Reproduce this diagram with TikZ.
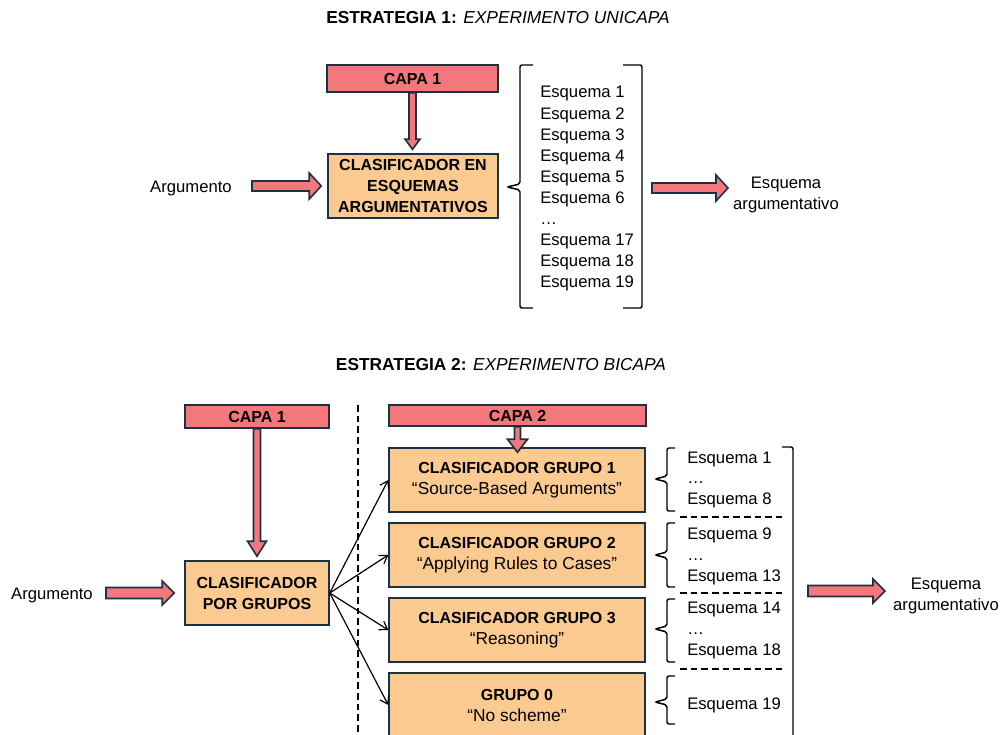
\documentclass[tikz,border=0pt]{standalone}
\usepackage{fontspec}
\setmainfont{Liberation Sans}
\usetikzlibrary{arrows.meta,calc}
\definecolor{capa}{HTML}{F4777B}
\definecolor{clasf}{HTML}{FBCA91}
\definecolor{edgec}{HTML}{1B3244}
\newcommand\fatH[5]{\draw[fatarrow] let \p1=(#1), \p2=(#2) in ({\x1},{\y1+#3}) -- ({\x2-#5},{\y1+#3}) -- ({\x2-#5},{\y1+#4}) -- ({\x2},{\y1}) -- ({\x2-#5},{\y1-#4}) -- ({\x2-#5},{\y1-#3}) -- ({\x1},{\y1-#3}) -- cycle;}
\newcommand\fatV[5]{\draw[fatarrow] let \p1=(#1), \p2=(#2) in ({\x1-#3},{\y1}) -- ({\x1-#3},{\y2+#5}) -- ({\x1-#4},{\y2+#5}) -- ({\x1},{\y2}) -- ({\x1+#4},{\y2+#5}) -- ({\x1+#3},{\y2+#5}) -- ({\x1+#3},{\y1}) -- cycle;}
\newcommand\bracketL[6]{\draw[bracestyle] (#2,#4) -- (#1,#4) -- (#1,{#6-3}) -- (#3,#6) -- (#1,{#6+3}) -- (#1,#5) -- (#2,#5);}
\newcommand\qline[1]{{\fontsize{13}{15.75}\selectfont #1}}
\tikzset{
  capabox/.style={draw=edgec, fill=capa, line width=1.1pt, inner sep=0pt, font=\bfseries\fontsize{12}{14}\selectfont},
  clasbox/.style={draw=edgec, fill=clasf, line width=1.1pt, inner sep=0pt, align=center, font=\fontsize{12}{15.75}\selectfont},
  fatarrow/.style={draw=edgec, fill=capa, line width=1.2pt, line join=miter},
  lbl/.style={font=\fontsize{12.5}{15.75}\selectfont, inner sep=0pt},
  ttl/.style={font=\fontsize{13}{15}\selectfont, inner sep=0pt},
  thinarr/.style={-{Straight Barb[length=5.5pt,width=7.5pt]}, line width=0.9pt},
  bracestyle/.style={line width=1.1pt, rounded corners=1.5pt},
  sepline/.style={dash pattern=on 5pt off 3pt, line width=1pt}
}
\begin{document}
\begin{tikzpicture}[x=0.75pt,y=-0.75pt]
\useasboundingbox (0,0) rectangle (1003,735);
\clip (0,0) rectangle (1003,735);
% ---------- Strategy 1 ----------
\node[ttl] (t1) at (498,18) {\textbf{ESTRATEGIA 1:} \textit{EXPERIMENTO UNICAPA}};
\node[capabox, minimum width=128.25pt, minimum height=20.25pt] (capaA) at (412.5,78.5) {CAPA 1};
\node[clasbox, minimum width=127.5pt, minimum height=48pt, font=\bfseries\fontsize{12}{15.75}\selectfont] (clasA) at (413,186) {CLASIFICADOR EN\\ESQUEMAS\\ARGUMENTATIVOS};
\node[lbl, anchor=base] (argA) at (191,192) {Argumento};
\coordinate (argAs) at (252,186);
\fatH{argAs}{[xshift=-4.5pt]clasA.west}{3.75pt}{9.75pt}{9pt}
\fatV{capaA.south}{[yshift=3pt]clasA.north}{2.6pt}{5.6pt}{7.5pt}
\foreach \t [count=\i] in {Esquema 1,Esquema 2,Esquema 3,Esquema 4,Esquema 5,Esquema 6,…,Esquema 17,Esquema 18,Esquema 19}
  \node[lbl, anchor=base west] (la\i) at (540,{98+(\i-1)*21.1}) {\t};
\bracketL{520}{533}{507}{65}{308}{187}
\draw[bracestyle] (623,65) -- (642,65) -- (642,308) -- (623,308);
\coordinate (oAs) at (652,188);
\coordinate (oAe) at (728,188);
\fatH{oAs}{oAe}{3.75pt}{9.75pt}{9pt}
\node[lbl, align=center] (outA) at (786,195) {Esquema\\argumentativo};
% ---------- Strategy 2 ----------
\node[ttl] (t2) at (501,365) {\textbf{ESTRATEGIA 2:} \textit{EXPERIMENTO BICAPA}};
\node[capabox, minimum width=108pt, minimum height=17.25pt] (capaB) at (257,416.5) {CAPA 1};
\node[clasbox, minimum width=108pt, minimum height=48pt, font=\bfseries\fontsize{12}{15.75}\selectfont] (clasB) at (257,593) {CLASIFICADOR\\POR GRUPOS};
\node[lbl, anchor=base] (argB) at (52,599) {Argumento};
\coordinate (argBs) at (106,593);
\fatH{argBs}{[xshift=-7.5pt]clasB.west}{4.1pt}{9pt}{9pt}
\fatV{capaB.south}{[yshift=3pt]clasB.north}{2.6pt}{7.1pt}{11.25pt}
\draw[sepline] (358,405) -- (358,745);
\node[capabox, minimum width=192.75pt, minimum height=15.75pt] (capaC) at (517.5,415.5) {CAPA 2};
\node[clasbox, minimum width=192pt, minimum height=48pt] (g1) at (517,480) {\textbf{CLASIFICADOR GRUPO 1}\\\qline{“Source-Based Arguments”}};
\node[clasbox, minimum width=192pt, minimum height=48pt] (g2) at (517,555) {\textbf{CLASIFICADOR GRUPO 2}\\\qline{“Applying Rules to Cases”}};
\node[clasbox, minimum width=192pt, minimum height=48pt] (g3) at (517,630) {\textbf{CLASIFICADOR GRUPO 3}\\\qline{“Reasoning”}};
\node[clasbox, minimum width=192pt, minimum height=48pt] (g0) at (517,705) {\textbf{GRUPO 0}\\\qline{“No scheme”}};
\fatV{capaC.south}{[yshift=-3.75pt]g1.north}{2.25pt}{7.5pt}{9.75pt}
\foreach \g in {g1,g2,g3,g0}
  \draw[thinarr] (clasB.east) -- (\g.west);
% lists
\node[lbl, anchor=base west] (lb1) at (687,463) {Esquema 1};
\node[lbl, anchor=base west] (lb2) at (687,483.5) {…};
\node[lbl, anchor=base west] (lb3) at (687,504) {Esquema 8};
\node[lbl, anchor=base west] (lb4) at (687,539) {Esquema 9};
\node[lbl, anchor=base west] (lb5) at (687,560) {…};
\node[lbl, anchor=base west] (lb6) at (687,581) {Esquema 13};
\node[lbl, anchor=base west] (lb7) at (687,613) {Esquema 14};
\node[lbl, anchor=base west] (lb8) at (687,634) {…};
\node[lbl, anchor=base west] (lb9) at (687,655) {Esquema 18};
\node[lbl, anchor=base west] (lb10) at (687,709) {Esquema 19};
\bracketL{667}{675}{655}{448}{511}{479}
\bracketL{667}{675}{655}{523}{587}{555}
\bracketL{667}{675}{655}{599}{662}{629}
\bracketL{667}{675}{655}{676}{724}{702}
\draw[sepline] (680,517) -- (782,517);
\draw[sepline] (680,593) -- (782,593);
\draw[sepline] (680,669) -- (782,669);
\draw[bracestyle] (782,447) -- (793,447) -- (793,745);
\coordinate (oBs) at (808,591);
\coordinate (oBe) at (885,591);
\fatH{oBs}{oBe}{4.1pt}{9pt}{9pt}
\node[lbl, align=center] (outB) at (946,596) {Esquema\\argumentativo};
\end{tikzpicture}
\end{document}
